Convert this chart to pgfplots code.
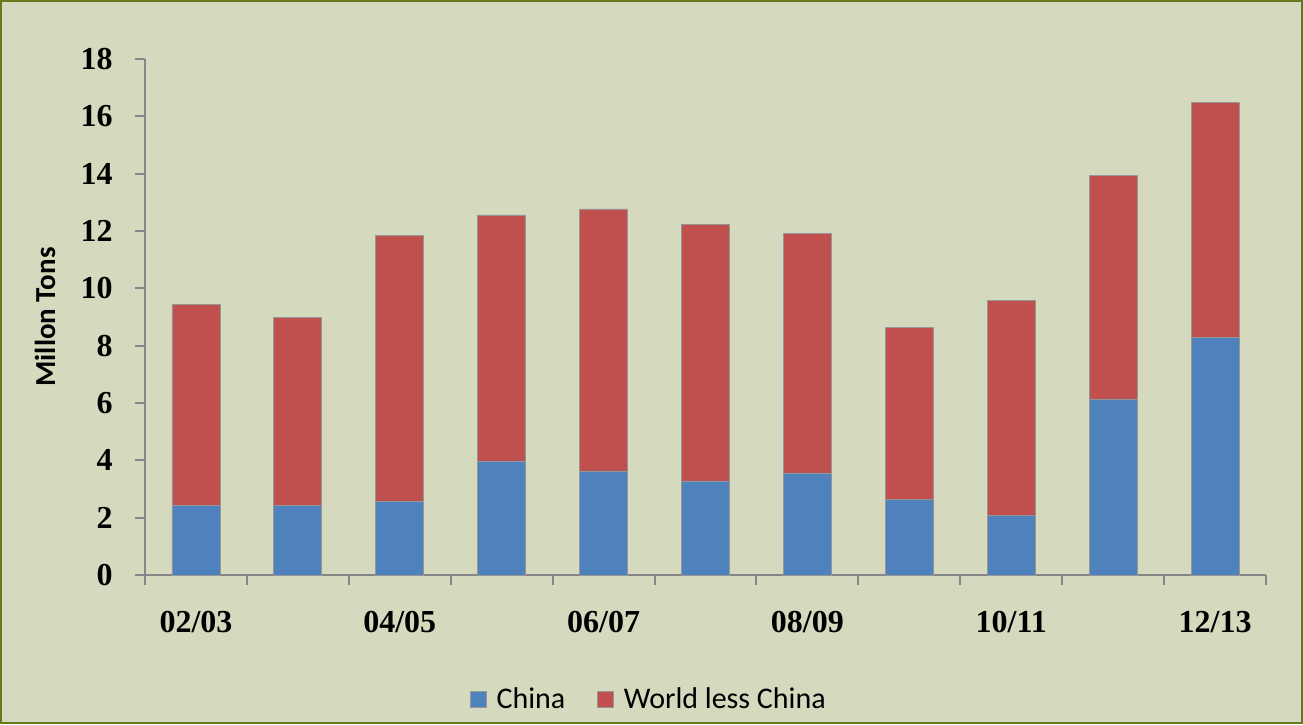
\documentclass[border=0pt]{standalone}
\usepackage{pgfplots}
\pgfplotsset{compat=1.18}
\usepackage{fontspec}
\setmainfont{Carlito}
\newfontfamily\tickfont{Liberation Serif}
\definecolor{bg}{RGB}{213,218,190}
\definecolor{framec}{RGB}{100,122,28}
\definecolor{cblue}{RGB}{79,129,189}
\definecolor{cred}{RGB}{192,80,77}
\definecolor{axgray}{RGB}{134,134,134}
\definecolor{edgegray}{RGB}{150,150,150}
\pgfplotstableread{
x china world
0 2.44 7.01
1 2.44 6.56
2 2.58 9.28
3 3.98 8.58
4 3.63 9.14
5 3.28 8.96
6 3.56 8.37
7 2.65 5.97
8 2.09 7.50
9 6.14 7.81
10 8.30 8.20
}\datatable
\begin{document}
\begin{tikzpicture}
\useasboundingbox (0,0) rectangle (651.5pt,362pt);
\fill[bg] (0,0) rectangle (651.5pt,362pt);
\draw[framec, line width=1.25pt] (0.6pt,0.6pt) rectangle (650.9pt,361.4pt);
\begin{axis}[
  at={(72.5pt,74.5pt)}, anchor=south west,
  scale only axis, width=560.5pt, height=258pt,
  ybar stacked, bar width=24pt,
  xmin=-0.5, xmax=10.5, ymin=0, ymax=18,
  axis x line=bottom, axis y line=left,
  axis line style={-, axgray, line width=1pt},
  xtick={-0.5,0.5,...,10.5}, xticklabel=\empty,
  extra x ticks={0,2,4,6,8,10},
  extra x tick labels={02/03,04/05,06/07,08/09,10/11,12/13},
  extra x tick style={major tick length=0pt, tick style={draw=none},
     xticklabel style={font=\tickfont\bfseries\fontsize{16}{16}\selectfont, inner sep=0pt, anchor=north, yshift=-18pt}},
  ytick={0,2,...,18},
  tick align=outside, major tick length=5pt,
  tick style={axgray, line width=1pt},
  /pgf/number format/assume math mode=true,
  yticklabel style={font=\tickfont\bfseries\fontsize{16}{16}\selectfont, inner sep=0pt, anchor=east, xshift=-11pt},
  ylabel={Millon Tons},
  ylabel style={font=\bfseries\fontsize{14.5}{15}\selectfont, at={(axis description cs:-0.0892,0.5)}, anchor=center},
  legend style={at={(0.4505,-0.242)}, anchor=center, draw=none, fill=none,
     legend columns=2, font=\fontsize{15}{15}\selectfont,
     /tikz/every even column/.append style={column sep=14pt}},
  legend image code/.code={\path[draw=none,fill=none] (0pt,0pt) -- (11pt,0pt);\draw[#1, draw=edgegray, line width=0.4pt] (0pt,-4pt) rectangle (8pt,4pt);},
  every axis plot/.append style={draw=edgegray, line width=0.4pt},
]
\addplot[fill=cblue] table[x=x, y=china] {\datatable};
\addplot[fill=cred] table[x=x, y=world] {\datatable};
\legend{China, World less China}
\end{axis}
\end{tikzpicture}
\end{document}
